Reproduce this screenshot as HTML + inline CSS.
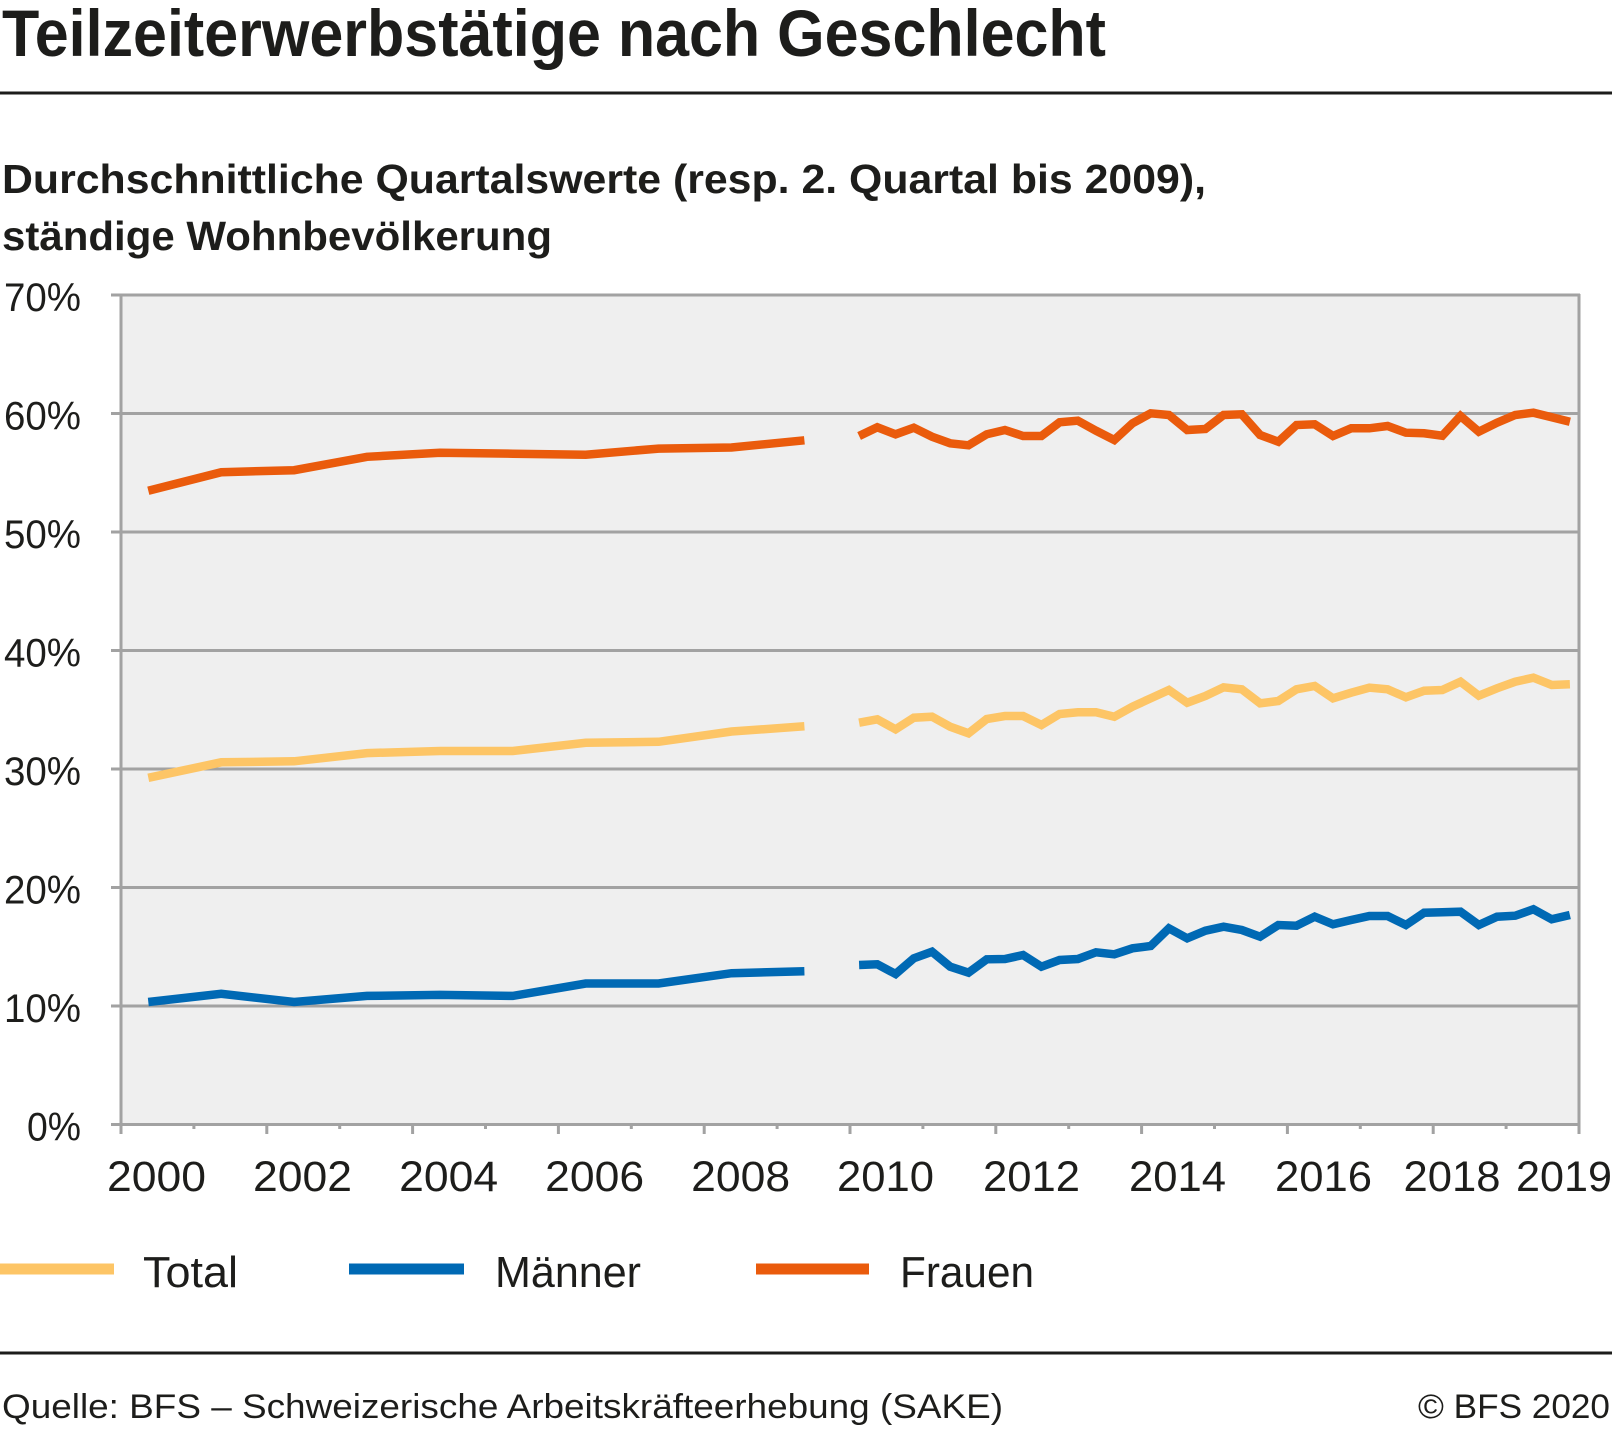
<!DOCTYPE html>
<html><head><meta charset="utf-8"><style>
html,body{margin:0;padding:0;background:#fff;}
svg{display:block;}
text{font-family:"Liberation Sans",Arial,sans-serif;fill:#1d1d1b;}
</style></head><body>
<svg width="1612" height="1430" viewBox="0 0 1612 1430" xmlns="http://www.w3.org/2000/svg">
<text x="2" y="56" font-size="66" font-weight="bold" textLength="1104" lengthAdjust="spacingAndGlyphs">Teilzeiterwerbstätige nach Geschlecht</text>
<rect x="0" y="91.5" width="1612" height="3" fill="#1d1d1b"/>
<text x="2" y="193" font-size="41" font-weight="bold" textLength="1204" lengthAdjust="spacingAndGlyphs">Durchschnittliche Quartalswerte (resp. 2. Quartal bis 2009),</text>
<text x="2" y="250" font-size="41" font-weight="bold" textLength="550" lengthAdjust="spacingAndGlyphs">ständige Wohnbevölkerung</text>

<rect x="121" y="295" width="1458" height="830" fill="#efefef"/>
<g stroke="#a2a2a2" stroke-width="3" fill="none">
<line x1="111" y1="295" x2="1580" y2="295"/>
<line x1="111" y1="413.5" x2="1580" y2="413.5"/>
<line x1="111" y1="532" x2="1580" y2="532"/>
<line x1="111" y1="650.5" x2="1580" y2="650.5"/>
<line x1="111" y1="769" x2="1580" y2="769"/>
<line x1="111" y1="887.5" x2="1580" y2="887.5"/>
<line x1="111" y1="1006" x2="1580" y2="1006"/>
<line x1="111" y1="1124.5" x2="1580" y2="1124.5"/>
<line x1="121" y1="294" x2="121" y2="1126"/>
<line x1="1579" y1="294" x2="1579" y2="1126"/>
<line x1="121" y1="1124" x2="121" y2="1134"/><line x1="266.8" y1="1124" x2="266.8" y2="1134"/><line x1="412.6" y1="1124" x2="412.6" y2="1134"/><line x1="558.4" y1="1124" x2="558.4" y2="1134"/><line x1="704.2" y1="1124" x2="704.2" y2="1134"/><line x1="850" y1="1124" x2="850" y2="1134"/><line x1="995.8" y1="1124" x2="995.8" y2="1134"/><line x1="1141.6" y1="1124" x2="1141.6" y2="1134"/><line x1="1287.4" y1="1124" x2="1287.4" y2="1134"/><line x1="1433.2" y1="1124" x2="1433.2" y2="1134"/><line x1="1579" y1="1124" x2="1579" y2="1134"/>
<line x1="193.9" y1="1124" x2="193.9" y2="1129"/><line x1="339.7" y1="1124" x2="339.7" y2="1129"/><line x1="485.5" y1="1124" x2="485.5" y2="1129"/><line x1="631.3" y1="1124" x2="631.3" y2="1129"/><line x1="777.1" y1="1124" x2="777.1" y2="1129"/><line x1="922.9" y1="1124" x2="922.9" y2="1129"/><line x1="1068.7" y1="1124" x2="1068.7" y2="1129"/><line x1="1214.5" y1="1124" x2="1214.5" y2="1129"/><line x1="1360.3" y1="1124" x2="1360.3" y2="1129"/><line x1="1506.1" y1="1124" x2="1506.1" y2="1129"/>
</g>

<g font-size="40" text-anchor="end">
<text x="81" y="311" textLength="77" lengthAdjust="spacingAndGlyphs">70%</text>
<text x="81" y="429.5" textLength="77" lengthAdjust="spacingAndGlyphs">60%</text>
<text x="81" y="548" textLength="77" lengthAdjust="spacingAndGlyphs">50%</text>
<text x="81" y="666.5" textLength="77" lengthAdjust="spacingAndGlyphs">40%</text>
<text x="81" y="785" textLength="77" lengthAdjust="spacingAndGlyphs">30%</text>
<text x="81" y="903.5" textLength="77" lengthAdjust="spacingAndGlyphs">20%</text>
<text x="81" y="1022" textLength="77" lengthAdjust="spacingAndGlyphs">10%</text>
<text x="81" y="1140.5" textLength="54" lengthAdjust="spacingAndGlyphs">0%</text>
</g>

<g font-size="43" text-anchor="middle">
<text x="156.5" y="1191" textLength="99" lengthAdjust="spacingAndGlyphs">2000</text>
<text x="302.5" y="1191" textLength="99" lengthAdjust="spacingAndGlyphs">2002</text>
<text x="448.6" y="1191" textLength="99" lengthAdjust="spacingAndGlyphs">2004</text>
<text x="594.7" y="1191" textLength="99" lengthAdjust="spacingAndGlyphs">2006</text>
<text x="740.7" y="1191" textLength="99" lengthAdjust="spacingAndGlyphs">2008</text>
<text x="885.5" y="1191" textLength="97" lengthAdjust="spacingAndGlyphs">2010</text>
<text x="1031.5" y="1191" textLength="97" lengthAdjust="spacingAndGlyphs">2012</text>
<text x="1177.5" y="1191" textLength="97" lengthAdjust="spacingAndGlyphs">2014</text>
<text x="1323.5" y="1191" textLength="97" lengthAdjust="spacingAndGlyphs">2016</text>
<text x="1452" y="1191" textLength="97" lengthAdjust="spacingAndGlyphs">2018</text>
<text x="1564" y="1191" textLength="96" lengthAdjust="spacingAndGlyphs">2019</text>
</g>

<g fill="none" stroke-width="8.5" stroke-linecap="butt" stroke-linejoin="miter">
<polyline stroke="#ea5b0c" points="148.3,490.7 221.2,472.2 294.1,470.2 367,456.8 439.9,452.7 512.8,453.7 585.7,454.7 658.6,448.6 731.5,447.5 804.4,440.3"/>
<polyline stroke="#ea5b0c" points="859.1,436 877.3,427.3 895.6,434.3 913.8,427.7 932,436.7 950.2,443.3 968.5,445.3 986.7,434.3 1004.9,430 1023.1,436 1041.4,436 1059.6,422.3 1077.8,420.7 1096,430.7 1114.3,440 1132.5,423.3 1150.7,413.3 1168.9,415 1187.2,430 1205.4,429 1223.6,415 1241.8,414.3 1260.1,435 1278.3,441.7 1296.5,425 1314.7,424.3 1333,436 1351.2,428.3 1369.4,428.3 1387.6,426 1405.9,432.7 1424.1,433.3 1442.3,435.7 1460.5,416 1478.8,431.7 1497,422.7 1515.2,415 1533.4,412.7 1551.7,417.3 1569.9,421.7"/>
<polyline stroke="#fdc566" points="148.3,777.8 221.2,762.3 294.1,761.3 367,753.1 439.9,751 512.8,751 585.7,742.8 658.6,741.8 731.5,731.5 804.4,726.3"/>
<polyline stroke="#fdc566" points="859.1,722.7 877.3,719.3 895.6,729.3 913.8,717.7 932,716.7 950.2,726.7 968.5,733.3 986.7,719 1004.9,716 1023.1,716 1041.4,725 1059.6,714 1077.8,712.3 1096,712.3 1114.3,716.7 1132.5,706.7 1150.7,698.3 1168.9,690 1187.2,702.7 1205.4,696 1223.6,687.3 1241.8,689.3 1260.1,703.3 1278.3,701 1296.5,689.3 1314.7,686 1333,698.3 1351.2,692.7 1369.4,687.7 1387.6,689.3 1405.9,697.3 1424.1,690.7 1442.3,690 1460.5,681.7 1478.8,695.7 1497,688.3 1515.2,681.7 1533.4,677.7 1551.7,685 1569.9,684.3"/>
<polyline stroke="#0069b4" points="148.3,1002 221.2,993.8 294.1,1002 367,995.9 439.9,994.9 512.8,995.9 585.7,983.5 658.6,983.5 731.5,973.2 804.4,971.2"/>
<polyline stroke="#0069b4" points="859.1,965 877.3,964.3 895.6,974 913.8,958.3 932,951.7 950.2,966.7 968.5,972.7 986.7,959.3 1004.9,959 1023.1,955 1041.4,966.7 1059.6,960 1077.8,959 1096,952.3 1114.3,954.3 1132.5,948.3 1150.7,946 1168.9,928.3 1187.2,938.3 1205.4,930.7 1223.6,926.7 1241.8,930 1260.1,936.7 1278.3,925 1296.5,925.7 1314.7,916.7 1333,924.3 1351.2,920 1369.4,916 1387.6,916 1405.9,925 1424.1,912.7 1442.3,912.3 1460.5,911.7 1478.8,925 1497,916.7 1515.2,915.7 1533.4,909.3 1551.7,919.3 1569.9,915"/>
</g>

<rect x="0" y="1263.5" width="114" height="11" fill="#fdc566"/>
<text x="143" y="1287" font-size="44" textLength="95" lengthAdjust="spacingAndGlyphs">Total</text>
<rect x="349" y="1263.5" width="115" height="11" fill="#0069b4"/>
<text x="495" y="1287" font-size="44" textLength="146" lengthAdjust="spacingAndGlyphs">Männer</text>
<rect x="756" y="1263.5" width="113" height="11" fill="#ea5b0c"/>
<text x="900" y="1287" font-size="44" textLength="134" lengthAdjust="spacingAndGlyphs">Frauen</text>

<rect x="0" y="1351.5" width="1612" height="3" fill="#1d1d1b"/>
<text x="2" y="1418" font-size="34" textLength="1001" lengthAdjust="spacingAndGlyphs">Quelle: BFS – Schweizerische Arbeitskräfteerhebung (SAKE)</text>
<text x="1418" y="1418" font-size="34" textLength="192" lengthAdjust="spacingAndGlyphs">© BFS 2020</text>
</svg>
</body></html>
